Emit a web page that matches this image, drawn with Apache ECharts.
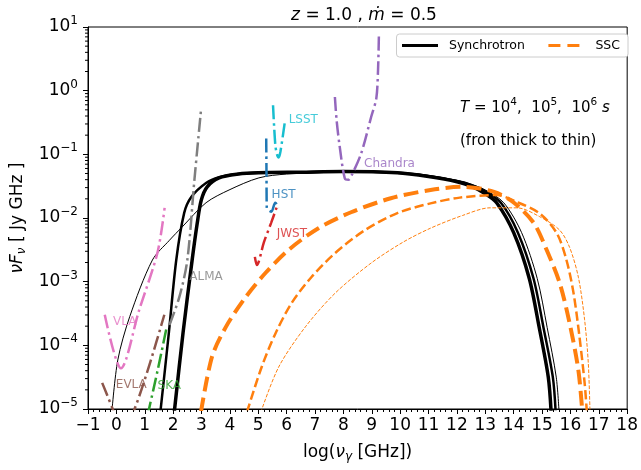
<!DOCTYPE html>
<html>
<head>
<meta charset="utf-8">
<script src="https://cdn.jsdelivr.net/npm/echarts@6/dist/echarts.min.js"></script>
<style>
  html, body { margin: 0; padding: 0; background: #fff; }
  #chart { width: 641px; height: 470px; }
</style>
</head>
<body>
<div id="chart"></div>
<script>
  // x = log(nu [GHz]), y = log10(nuFnu [Jy GHz])
  const syncThick = [[2.04, -5.05], [2.35, -3.8], [2.67, -2.66], [2.85, -2.08], [2.99, -1.72], [3.2, -1.51], [3.62, -1.37], [4.3, -1.31], [5.0, -1.29], [6.5, -1.28], [8.0, -1.27], [9.9, -1.29], [11.0, -1.35], [12.0, -1.43], [12.5, -1.5], [13.0, -1.62], [13.4, -1.76], [14.0, -2.23], [14.55, -2.95], [14.9, -3.72], [15.22, -4.5], [15.32, -5.05]]
  const syncMed = [[1.55, -5.05], [1.85, -3.8], [2.11, -2.66], [2.39, -1.92], [2.64, -1.67], [3.16, -1.45], [3.62, -1.36], [4.3, -1.31], [5.0, -1.29], [6.5, -1.28], [8.0, -1.27], [9.9, -1.29], [11.0, -1.34], [12.0, -1.42], [12.5, -1.48], [13.0, -1.58], [13.55, -1.76], [14.15, -2.23], [14.7, -2.95], [15.05, -3.72], [15.38, -4.5], [15.48, -5.05]]
  const syncThin = [[-0.16, -5.05], [0.05, -4.23], [0.47, -3.55], [1.27, -2.66], [1.87, -2.35], [2.32, -2.14], [3.16, -1.76], [3.97, -1.56], [5.02, -1.37], [6.0, -1.31], [8.0, -1.28], [9.9, -1.29], [11.0, -1.33], [12.0, -1.41], [12.5, -1.47], [13.0, -1.56], [13.65, -1.76], [14.28, -2.23], [14.83, -2.95], [15.18, -3.72], [15.5, -4.5], [15.6, -5.05]]

  const sscThick = [[2.98, -5.05], [3.37, -4.18], [3.86, -3.71], [4.56, -3.24], [5.26, -2.86], [6.07, -2.5], [7.12, -2.16], [8.27, -1.91], [9.67, -1.69], [11.07, -1.56], [12.2, -1.51], [13.31, -1.59], [14.01, -1.76], [14.71, -2.08], [15.16, -2.5], [15.62, -3.02], [15.97, -3.65], [16.28, -4.39], [16.42, -5.05]]
  const sscMed = [[4.6, -5.05], [5.12, -4.34], [5.61, -3.81], [6.17, -3.34], [6.87, -2.93], [7.71, -2.55], [8.76, -2.19], [9.92, -1.92], [11.07, -1.77], [12.1, -1.68], [13.4, -1.64], [14.12, -1.75], [14.92, -1.93], [15.52, -2.24], [15.86, -2.66], [16.11, -3.18], [16.32, -3.87], [16.5, -4.59], [16.58, -5.05]]
  const sscThin = [[5.09, -5.05], [5.72, -4.34], [6.66, -3.71], [7.71, -3.18], [8.97, -2.71], [10.1, -2.38], [11.07, -2.16], [12.2, -1.96], [13.17, -1.84], [14.12, -1.84], [14.92, -1.98], [15.62, -2.19], [15.97, -2.46], [16.28, -2.93], [16.5, -3.6], [16.63, -4.28], [16.69, -5.05]]

  // 仪器灵敏度曲线
  const vla = [[-0.41, -3.52], [0.16, -4.36], [0.8, -3.45], [1.45, -2.54], [1.7, -1.84]]
  const evla = [[-0.5, -4.59], [-0.13, -5.0], [0.2, -5.4], [0.64, -5.0], [1.17, -4.3], [1.69, -3.52]]
  const ska = [[1.1, -5.1], [1.45, -4.4], [1.78, -3.7]]
  const alma = [[1.87, -3.68], [2.22, -3.24], [2.5, -2.66], [2.75, -1.4], [2.99, -0.27]]
  const jwst = [[4.88, -2.61], [4.95, -2.74], [5.2, -2.38], [5.45, -2.08], [5.65, -1.83]]
  const hst = [[5.28, -0.75], [5.29, -1.3], [5.3, -1.84], [5.46, -1.9], [5.6, -1.76], [5.72, -1.84]]
  const lsst = [[5.52, -0.23], [5.6, -0.85], [5.66, -1.0], [5.72, -1.05], [5.78, -0.96], [5.93, -0.51]]
  const chandra = [[7.7, -0.1], [7.76, -0.46], [7.87, -0.88], [8.05, -1.38], [8.18, -1.4], [8.28, -1.34], [8.63, -0.98], [8.98, -0.41], [9.16, -0.12], [9.22, 0.32], [9.25, 0.85]]

  // 标注文字位置 [name, x, log10 y, color]
  const instLabels = [
    ['VLA', -0.12, -3.63, '#e377c2'],
    ['EVLA', -0.02, -4.62, '#8c564b'],
    ['SKA', 1.45, -4.64, '#2ca02c'],
    ['ALMA', 2.57, -2.93, '#7f7f7f'],
    ['JWST', 5.65, -2.25, '#d62728'],
    ['HST', 5.47, -1.64, '#1f77b4'],
    ['LSST', 6.07, -0.46, '#17becf'],
    ['Chandra', 8.73, -1.15, '#9467bd']
  ]

  // y 轴次刻度：每个数量级内的 2..9
  const decades = [-5, -4, -3, -2, -1, 0]
  const minorMantissa = [2, 3, 4, 5, 6, 7, 8, 9]

  const FONT = 'DejaVu Sans'
  const toFlux = arr => arr.map(p => [p[0], Math.pow(10, p[1])])

  function lineSeries(name, data, color, width, type, z) {
    return {
      name: name,
      type: 'line',
      data: toFlux(data),
      symbol: 'none',
      showSymbol: false,
      smooth: 0.3,
      clip: true,
      silent: true,
      z: z || 2,
      lineStyle: { color: color, width: width, type: type, cap: 'butt' },
      itemStyle: { color: color }
    }
  }

  const minorTickData = []
  decades.forEach(d => {
    minorMantissa.forEach(m => minorTickData.push([-1, m * Math.pow(10, d)]))
  })

  const dashDot = [14, 4, 2.5, 4]
  const chart = echarts.init(document.getElementById('chart'))

  chart.setOption({
    animation: false,
    backgroundColor: '#fff',
    title: {
      text: '{i|z} = 1.0 , {i|ṁ} = 0.5',
      left: 359,
      textAlign: 'center',
      top: 2,
      textStyle: {
        fontFamily: FONT, fontSize: 17, fontWeight: 'normal', color: '#000',
        rich: { i: { fontFamily: FONT, fontSize: 17, fontStyle: 'italic', color: '#000' } }
      }
    },
    legend: {
      right: 13,
      top: 34,
      orient: 'horizontal',
      padding: [5, 8, 5, 4],
      itemGap: 22,
      itemWidth: 36,
      itemHeight: 12,
      borderColor: '#cccccc',
      borderWidth: 1,
      borderRadius: 3,
      backgroundColor: '#fff',
      itemStyle: { opacity: 0 },
      textStyle: { fontFamily: FONT, fontSize: 12.5, color: '#000', padding: [0, 0, 0, 6] },
      data: [
        { name: 'Synchrotron', lineStyle: { width: 3, type: 'solid' } },
        { name: 'SSC', lineStyle: { width: 3, type: [12, 7] } }
      ]
    },
    grid: { left: 88, right: 10, top: 27, bottom: 61, show: true, borderColor: '#000', borderWidth: 1 },
    xAxis: {
      type: 'value',
      min: -1,
      max: 18,
      interval: 1,
      name: 'log({i|ν}{sub|γ} [GHz])',
      nameLocation: 'middle',
      nameGap: 34,
      nameTextStyle: {
        fontFamily: FONT, fontSize: 17, color: '#000',
        rich: {
          i: { fontFamily: FONT, fontSize: 17, fontStyle: 'italic', color: '#000' },
          sub: { fontFamily: FONT, fontSize: 12, fontStyle: 'italic', color: '#000', verticalAlign: 'bottom', padding: [8, 0, 0, 0] }
        }
      },
      axisLine: { onZero: false, lineStyle: { color: '#000', width: 1 } },
      axisTick: { length: 5, lineStyle: { color: '#000' } },
      minorTick: { show: true, splitNumber: 5, length: 3, lineStyle: { color: '#000' } },
      splitLine: { show: false },
      axisLabel: {
        fontFamily: FONT, fontSize: 17, color: '#000', margin: 8,
        formatter: v => String(v).replace('-', '−')
      }
    },
    yAxis: {
      type: 'log',
      logBase: 10,
      min: 1e-5,
      max: 10,
      interval: 1,
      name: '{i|νF}{sub|ν} [ Jy GHz ]',
      nameLocation: 'middle',
      nameGap: 47,
      nameTextStyle: {
        fontFamily: FONT, fontSize: 17, color: '#000',
        rich: {
          i: { fontFamily: FONT, fontSize: 17, fontStyle: 'italic', color: '#000' },
          sub: { fontFamily: FONT, fontSize: 12, fontStyle: 'italic', color: '#000', verticalAlign: 'bottom', padding: [8, 0, 0, 0] }
        }
      },
      axisLine: { show: true, onZero: false, lineStyle: { color: '#000', width: 1 } },
      axisTick: { show: true, length: 5, lineStyle: { color: '#000' } },
      minorTick: { show: false },
      splitLine: { show: false },
      axisLabel: {
        margin: 10,
        formatter: v => {
          const e = Math.round(Math.log10(v))
          return '{b|10}{s|' + String(e).replace('-', '−') + '}'
        },
        rich: {
          b: { fontFamily: FONT, fontSize: 17, color: '#000', lineHeight: 24 },
          s: { fontFamily: FONT, fontSize: 12, color: '#000', verticalAlign: 'top', lineHeight: 14 }
        }
      }
    },
    graphic: [
      {
        type: 'text', left: 460, top: 97,
        style: {
          text: '{i|T} = 10{s|4},  10{s|5},  10{s|6} {i|s}',
          fontFamily: FONT, fontSize: 15, fill: '#000',
          rich: {
            i: { fontFamily: FONT, fontSize: 15, fontStyle: 'italic', fill: '#000', lineHeight: 22 },
            s: { fontFamily: FONT, fontSize: 10.5, fill: '#000', verticalAlign: 'top', lineHeight: 14 }
          }
        }
      },
      {
        type: 'text', left: 460, top: 134,
        style: { text: '(fron thick to thin)', fontFamily: FONT, fontSize: 15, fill: '#000' }
      }
    ],
    series: [
      lineSeries('Synchrotron', syncThick, '#000', 3.5, 'solid', 3),
      lineSeries('Synchrotron 1e5', syncMed, '#000', 2.5, 'solid', 3),
      lineSeries('Synchrotron 1e6', syncThin, '#000', 1, 'solid', 3),
      lineSeries('SSC', sscThick, '#ff7f0e', 4, [14.8, 6.4], 3),
      lineSeries('SSC 1e5', sscMed, '#ff7f0e', 2.5, [9.2, 4], 3),
      lineSeries('SSC 1e6', sscThin, '#ff7f0e', 1, [3.7, 1.6], 3),
      lineSeries('VLA', vla, '#e377c2', 2.5, dashDot, 4),
      lineSeries('EVLA', evla, '#8c564b', 2.5, dashDot, 4),
      lineSeries('SKA', ska, '#2ca02c', 2.5, dashDot, 4),
      lineSeries('ALMA', alma, '#7f7f7f', 2.5, dashDot, 4),
      lineSeries('JWST', jwst, '#d62728', 2.5, dashDot, 4),
      lineSeries('HST', hst, '#1f77b4', 2.5, dashDot, 4),
      lineSeries('LSST', lsst, '#17becf', 2.5, dashDot, 4),
      lineSeries('Chandra', chandra, '#9467bd', 2.5, dashDot, 4),
      {
        name: 'labels',
        type: 'scatter',
        symbolSize: 0,
        silent: true,
        z: 5,
        data: instLabels.map(l => ({
          value: [l[1], Math.pow(10, l[2])],
          label: {
            show: true, position: 'right', distance: 0,
            formatter: l[0], color: l[3], fontFamily: FONT, fontSize: 12
          }
        }))
      },
      {
        name: 'yMinorTicks',
        type: 'custom',
        silent: true,
        clip: false,
        z: 6,
        data: minorTickData,
        renderItem: (params, api) => {
          const p = api.coord([api.value(0), api.value(1)])
          return {
            type: 'line',
            shape: { x1: p[0] - 3, y1: p[1], x2: p[0], y2: p[1] },
            style: { stroke: '#000', lineWidth: 1 }
          }
        }
      }
    ]
  })
</script>
</body>
</html>
